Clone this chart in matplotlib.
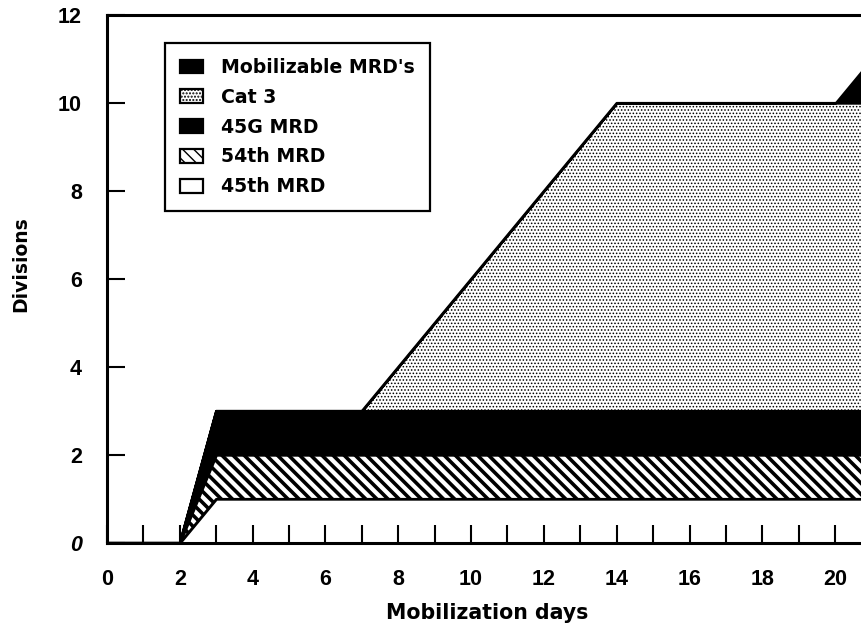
import matplotlib
matplotlib.use("Agg")
import matplotlib.pyplot as plt
import numpy as np

plt.rcParams["font.family"] = ["DejaVu Sans"]

# mobilization days and divisions added by each group (stacked)
days = [0, 2, 3, 7, 14, 20, 21]
mrd_45th = [0, 0, 1, 1, 1, 1, 1]
mrd_54th = [0, 0, 1, 1, 1, 1, 1]
mrd_45g = [0, 0, 1, 1, 1, 1, 1]
cat_3 = [0, 0, 0, 0, 7, 7, 7]
mobilizable = [0, 0, 0, 0, 0, 0, 1]

labels = ["45th MRD", "54th MRD", "45G MRD", "Cat 3", "Mobilizable MRD's"]
x_ticks = list(range(0, 21))
x_ticklabels = [str(d) if d % 2 == 0 else "" for d in x_ticks]
y_ticks = [0, 2, 4, 6, 8, 10, 12]

TICK_FONT = dict(family="Liberation Sans", weight="bold", size=15.5)


def main():
    fig = plt.figure(figsize=(8.61, 6.34), dpi=100)
    ax = fig.add_axes([0.1243, 0.1435, 0.8757, 0.8328])

    series = [mrd_45th, mrd_54th, mrd_45g, cat_3, mobilizable]
    fills = [("white", None, 1.0),
             ("white", "\\\\\\", 2.6),
             ("black", None, 1.0),
             ("white", ".....", 0.7),
             ("black", None, 1.0)]
    base = np.zeros(len(days))
    handles = []
    for vals, (fc, hatch, hlw), lab in zip(series, fills, labels):
        top = base + np.array(vals, dtype=float)
        with plt.rc_context({"hatch.linewidth": hlw}):
            h = ax.fill_between(days, base, top, facecolor=fc, hatch=hatch,
                                edgecolor="black", linewidth=1.6, label=lab)
        handles.append(h)
        base = top

    ax.set_xlim(0, 20.71)
    ax.set_ylim(0, 12)
    ax.set_xticks(x_ticks)
    ax.set_xticklabels(x_ticklabels, fontdict=TICK_FONT)
    ax.set_yticks(y_ticks)
    ax.set_yticklabels([str(v) for v in y_ticks], fontdict=TICK_FONT)
    ax.get_yticklabels()[0].set_fontstyle("italic")
    ax.tick_params(direction="in", length=13, width=1.5)
    ax.tick_params(axis="x", pad=19)
    ax.tick_params(axis="y", pad=18)
    for s in ["left", "bottom", "top"]:
        ax.spines[s].set_linewidth(2.2)
    ax.spines["right"].set_visible(False)

    ax.set_xlabel("Mobilization days", fontsize=14.8, fontweight="bold",
                  va="top")
    ax.xaxis.set_label_coords(0.504, -0.1136)
    ax.set_ylabel("Divisions", fontsize=13.5, fontweight="bold")
    ax.yaxis.set_label_coords(-0.102, 0.528)

    leg = ax.legend(handles[::-1], labels[::-1], loc="upper left",
                    bbox_to_anchor=(0.0769, 0.947), borderaxespad=0,
                    prop=dict(size=13.6, weight="bold"), fancybox=False,
                    framealpha=1, edgecolor="black", handlelength=1.2,
                    handleheight=0.75, handletextpad=0.95, labelspacing=0.57,
                    borderpad=0.8)
    leg.get_frame().set_linewidth(1.6)

    fig.savefig("out.png", dpi=100)
    plt.close(fig)


if __name__ == "__main__":
    main()
